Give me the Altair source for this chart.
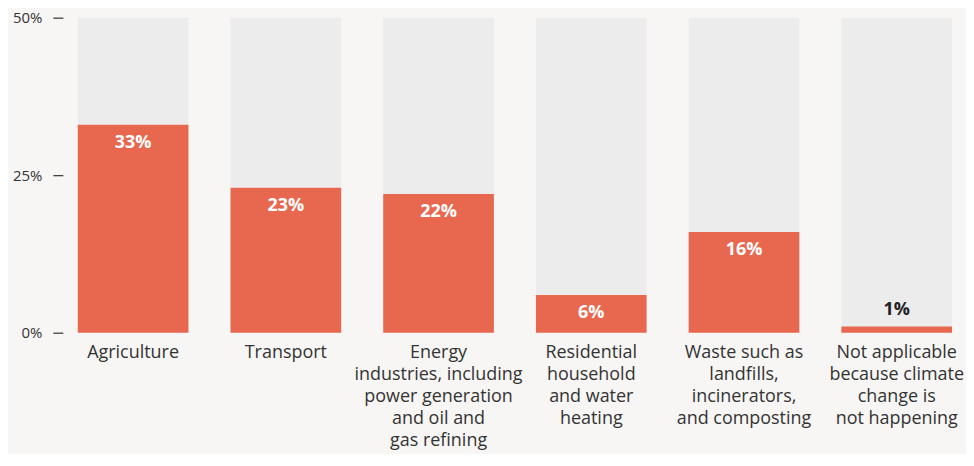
import altair as alt
import pandas as pd

categories = [
    "Agriculture",
    "Transport",
    "Energy|industries, including|power generation|and oil and|gas refining",
    "Residential|household|and water|heating",
    "Waste such as|landfills,|incinerators,|and composting",
    "Not applicable|because climate|change is|not happening",
]
values = [33, 23, 22, 6, 16, 1]
axis_max = [50, 50, 50, 50, 50, 50]
y_ticks = [0, 25, 50]

df = pd.DataFrame({"cat": categories, "value": values, "max": axis_max})
df["label"] = df["value"].astype(str) + "%"

font = "Open Sans"
x_enc = alt.X(
    "cat:N",
    sort=categories,
    scale=alt.Scale(paddingInner=0.2755, paddingOuter=0),
    axis=alt.Axis(
        title=None,
        labelExpr="split(datum.label, '|')",
        labelAngle=0,
        labelFontSize=18,
        labelFont=font,
        labelColor="#333333",
        labelLineHeight=22,
        labelPadding=11,
        labelBaseline="top",
        ticks=False,
        domain=False,
        labelLimit=300,
    ),
)

y_scale = alt.Scale(domain=[0, 50], nice=False)

bg = alt.Chart(df).mark_bar(color="#ececec").encode(
    x=x_enc,
    y=alt.Y(
        "max:Q",
        scale=y_scale,
        axis=alt.Axis(
            title=None,
            values=y_ticks,
            labelExpr="datum.value + '%'",
            grid=False,
            domain=False,
            tickColor="#333333",
            tickSize=10,
            tickWidth=1.2,
            offset=15,
            labelPadding=11,
            labelFontSize=15,
            labelFont=font,
            labelColor="#333333",
        ),
    ),
)

bars = alt.Chart(df).mark_bar(color="#e8684f").encode(
    x=alt.X("cat:N", sort=categories),
    y=alt.Y("value:Q", scale=y_scale),
)

inside = alt.Chart(df).transform_filter("datum.value >= 5").mark_text(
    color="white", fontWeight="bold", fontSize=18, font=font, baseline="middle", dy=18
).encode(
    x=alt.X("cat:N", sort=categories),
    y=alt.Y("value:Q", scale=y_scale),
    text="label:N",
)

outside = alt.Chart(df).transform_filter("datum.value < 5").mark_text(
    color="#222222", fontWeight="bold", fontSize=18, font=font, baseline="middle", dy=-16
).encode(
    x=alt.X("cat:N", sort=categories),
    y=alt.Y("value:Q", scale=y_scale),
    text="label:N",
)

chart = (
    alt.layer(bg, bars, inside, outside)
    .properties(
        width=877,
        height=316,
        background="#f7f6f4",
        padding={"left": 4, "top": 2, "right": 2, "bottom": 4},
    )
    .configure_view(stroke=None)
)

chart.save("out.html", embed_options={"renderer": "svg", "actions": False})
